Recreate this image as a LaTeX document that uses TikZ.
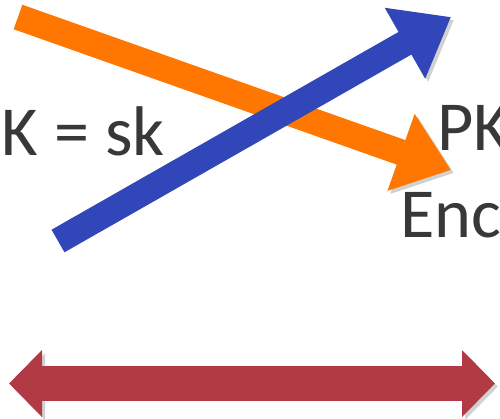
\documentclass[tikz,border=0pt]{standalone}
\usepackage{fontspec}
\setmainfont{Carlito}
\usepackage{xcolor}
\usepackage{tikz}
\usetikzlibrary{positioning,arrows.meta,calc}

\definecolor{inkgray}{HTML}{383838}
\definecolor{keyorange}{HTML}{FF7700}
\definecolor{keyblue}{HTML}{3046B9}
\definecolor{linkred}{HTML}{B23A44}

\begin{document}
\begin{tikzpicture}[
  lbl/.style={font=\fontsize{40}{40}\selectfont, text=inkgray, inner sep=0pt, anchor=base west},
  fat/.style={line width=5.2mm, -{Triangle[length=10.6mm, width=15.6mm]},
    preaction={draw=black!18, transform canvas={shift={(0.6mm,-0.6mm)}}}},
  link/.style={line width=7mm, {Triangle[length=6.6mm, width=13mm]}-{Triangle[length=6.6mm, width=13mm]},
    preaction={draw=black!18, transform canvas={shift={(0.6mm,-0.6mm)}}}}
]
  \clip (0,0) rectangle (10,8.36);

  % labels
  \node[lbl] (sk) at (0.03,5.26) {K = sk};
  \node[lbl] (pk) at (8.74,5.36) {PK};
  \node[lbl] (enc) at (8.0,3.62) {Enc};

  % arrow ends
  \coordinate (otail) at (0.36,8.02);
  \coordinate (otip) at (9.02,4.96);
  \coordinate (btail) at (1.16,3.54);
  \coordinate (btip) at (9.02,8.02);
  \coordinate (rleft) at (0.18,0.69);
  \coordinate (rright) at (9.9,0.69);

  \draw[fat, keyorange] (otail) -- (otip);
  \draw[fat, keyblue] (btail) -- (btip);
  \draw[link, linkred] (rleft) -- (rright);
\end{tikzpicture}
\end{document}
